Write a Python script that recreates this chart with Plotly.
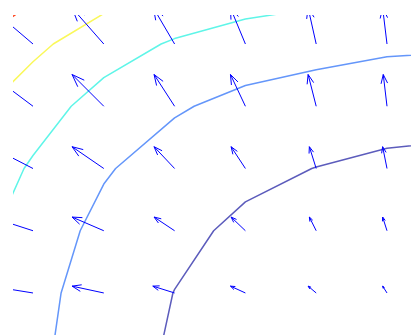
import numpy as np
import plotly.graph_objects as go
import plotly.figure_factory as ff

# Arrow grid (column index along x, row index along y)
grid_x = [0, 1, 2, 3, 4, 5]
grid_y = [4, 3, 2, 1, 0]

# Arrow components, one row per grid_y value
u_rows = [
    [-0.68, -0.51, -0.34, -0.24, -0.13, -0.07],
    [-0.68, -0.51, -0.33, -0.24, -0.13, -0.06],
    [-0.68, -0.51, -0.33, -0.23, -0.11, -0.07],
    [-0.68, -0.51, -0.33, -0.23, -0.11, -0.07],
    [-0.68, -0.51, -0.35, -0.24, -0.13, -0.07],
]
v_rows = [
    [0.58, 0.58, 0.58, 0.58, 0.58, 0.58],
    [0.51, 0.51, 0.51, 0.51, 0.51, 0.51],
    [0.35, 0.35, 0.35, 0.35, 0.35, 0.35],
    [0.22, 0.22, 0.22, 0.22, 0.22, 0.22],
    [0.11, 0.11, 0.11, 0.11, 0.11, 0.11],
]

# Scalar field sampled on a slightly larger grid for the contour lines
field_x = [-1, 0, 1, 2, 3, 4, 5, 6]
field_y = [-1, 0, 1, 2, 3, 4, 5]
field_z = [
    [2.39, 1.68, 1.05, 0.63, 0.34, 0.18, 0.05, 0.00],
    [2.47, 1.76, 1.13, 0.71, 0.42, 0.26, 0.13, 0.08],
    [2.64, 1.93, 1.30, 0.88, 0.59, 0.43, 0.30, 0.25],
    [2.92, 2.21, 1.58, 1.16, 0.87, 0.71, 0.58, 0.53],
    [3.35, 2.64, 2.01, 1.59, 1.30, 1.14, 1.01, 0.96],
    [3.98, 3.27, 2.64, 2.22, 1.93, 1.77, 1.64, 1.59],
    [4.90, 4.19, 3.56, 3.14, 2.85, 2.69, 2.56, 2.51],
]
level_start = 0.72
level_step = 0.79
level_end = 3.9
level_colors = [
    "rgb(92,92,188)",
    "rgb(100,150,250)",
    "rgb(95,245,232)",
    "rgb(250,248,90)",
    "rgb(255,70,30)",
]

x_range = [-0.2825, 5.339]
y_range = [-0.675, 4.466]

gx, gy = np.meshgrid(grid_x, grid_y)
quiver = ff.create_quiver(
    gx.flatten().tolist(),
    gy.flatten().tolist(),
    np.array(u_rows).flatten().tolist(),
    np.array(v_rows).flatten().tolist(),
    scale=1,
    arrow_scale=0.3,
    angle=np.pi / 9,
    scaleratio=62.25 / 70.8,
    line=dict(color="rgb(0,0,255)", width=1),
)

n = len(level_colors)
colorscale = [[i / (n - 1), c] for i, c in enumerate(level_colors)]

contour = go.Contour(
    x=field_x,
    y=field_y,
    z=field_z,
    contours=dict(coloring="lines", start=level_start, end=level_end,
                  size=level_step, showlabels=False),
    line=dict(width=1.5, smoothing=0),
    colorscale=colorscale,
    zauto=False,
    zmin=level_start,
    zmax=level_start + level_step * (n - 1),
    showscale=False,
    hoverinfo="skip",
)

fig = go.Figure(data=[contour] + list(quiver.data))
fig.update_layout(
    width=411,
    height=335,
    margin=dict(l=13, r=0, t=15, b=0),
    showlegend=False,
    paper_bgcolor="white",
    plot_bgcolor="white",
    xaxis=dict(range=x_range, visible=False),
    yaxis=dict(range=y_range, visible=False),
)
fig.write_html("out.html")
